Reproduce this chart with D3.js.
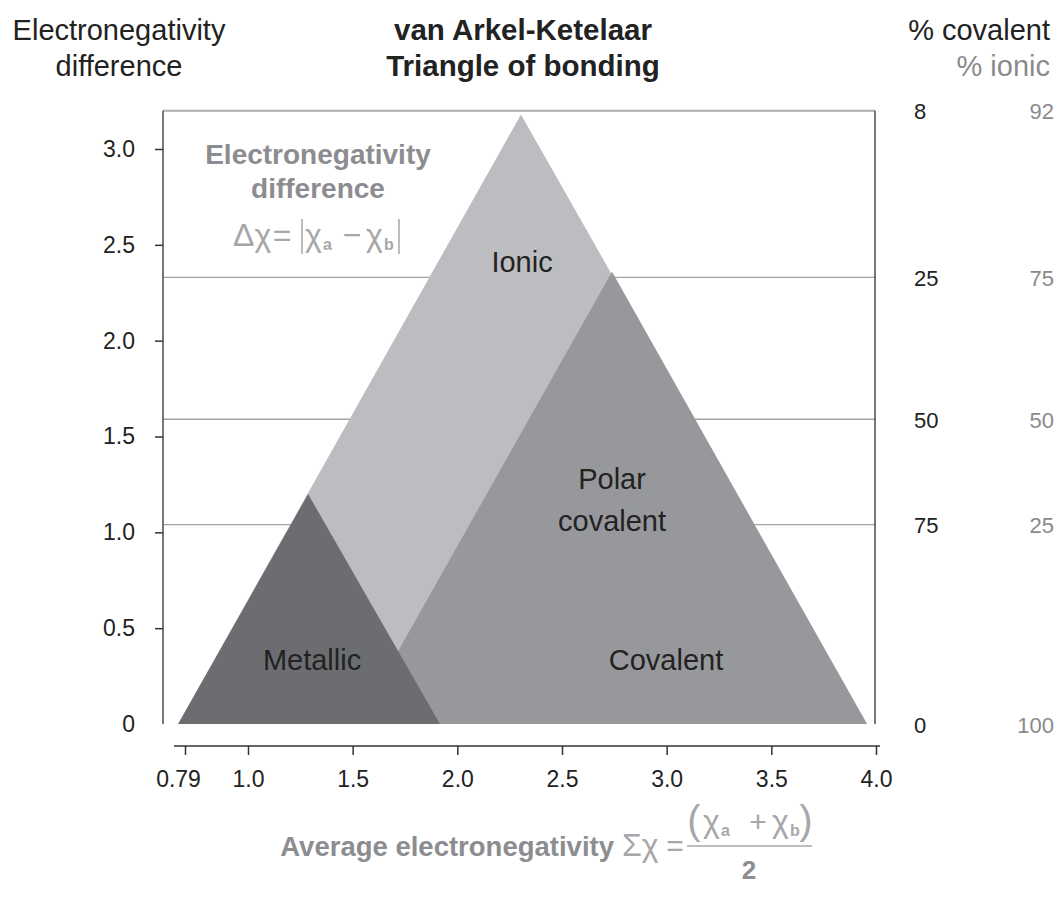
<!DOCTYPE html>
<html>
<head>
<meta charset="utf-8">
<script src="https://cdn.jsdelivr.net/npm/d3@7"></script>
<style>
  body { margin: 0; background: #fff; }
  text { font-family: "Liberation Sans", Arial, sans-serif; }
</style>
</head>
<body>
<div id="chart"></div>
<script>

// corners of the three regions, [average EN, EN difference]
var bigTriangle = [[0.767, 0], [2.304, 3.18], [3.957, 0]]
var covalentTriangle = [[1.521, 0], [2.739, 2.36], [3.957, 0]]
var metallicTriangle = [[0.767, 0], [1.287, 1.20], [1.917, 0]]

var xTicks = [0.79, 1.0, 1.5, 2.0, 2.5, 3.0, 3.5, 4.0]
var yTicks = [0, 0.5, 1.0, 1.5, 2.0, 2.5, 3.0]

// right hand scale: EN difference -> % covalent / % ionic
var levels = [3.2, 2.33, 1.59, 1.04, 0]
var pctCovalent = ["8", "25", "50", "75", "0"]
var pctIonic = ["92", "75", "50", "25", "100"]

var regionNames = [["Ionic"], ["Polar", "covalent"], ["Metallic"], ["Covalent"]]
var regionAt = [[2.309, 2.41], [2.739, 1.17], [1.306, 0.334], [2.997, 0.334]]

var width = 1059,
    height = 897

var svg = d3.select("#chart")
  .append("svg")
    .attr("width", width)
    .attr("height", height)

// the axis is stretched between 0.79 and 1.0 in the original
var x = d3.scaleLinear()
  .domain([0.79, 1, 4])
  .range([185, 248, 876])

var y = d3.scaleLinear()
  .domain([0, 3])
  .range([724, 149])

var left = 163, right = 875
var sans = "Liberation Sans, Arial, sans-serif"
var serif = "Liberation Serif, Times New Roman, serif"
var fGrey = "#a6a7aa"
var bGrey = "#8c8d90"

// level lines (behind the triangles)
svg.selectAll("line.level")
  .data(levels.slice(1, 4)).enter()
  .append("line")
    .attr("x1", left).attr("x2", right)
    .attr("y1", function(d) { return y(d) }).attr("y2", function(d) { return y(d) })
    .attr("stroke", "#a3a3a6")
    .attr("stroke-width", 1.3)

// top frame line
svg.append("line")
  .attr("x1", left).attr("x2", right)
  .attr("y1", y(levels[0])).attr("y2", y(levels[0]))
  .attr("stroke", "#adadb0")
  .attr("stroke-width", 2)

// frame sides
svg.selectAll("line.side")
  .data([left, right]).enter()
  .append("line")
    .attr("x1", function(d) { return d }).attr("x2", function(d) { return d })
    .attr("y1", y(levels[0])).attr("y2", y(0))
    .attr("stroke", "#4a4a4d")
    .attr("stroke-width", 1.5)

var line = d3.line()
  .x(function(d) { return x(d[0]) })
  .y(function(d) { return y(d[1]) })

var shapes = [
  { pts: bigTriangle, fill: "#bcbdc1" },
  { pts: covalentTriangle, fill: "#97989c" },
  { pts: metallicTriangle, fill: "#6c6d71" }
]

svg.selectAll("path.region")
  .data(shapes).enter()
  .append("path")
    .attr("d", function(d) { return line(d.pts) + "Z" })
    .attr("fill", function(d) { return d.fill })

// region names
regionNames.forEach(function(lines, i) {
  var t = svg.append("text")
    .attr("x", x(regionAt[i][0]))
    .attr("y", y(regionAt[i][1]))
    .attr("text-anchor", "middle")
    .attr("font-size", 29)
    .attr("fill", "#222")
  lines.forEach(function(s, j) {
    t.append("tspan")
      .attr("x", x(regionAt[i][0]))
      .attr("dy", j == 0 ? (0.35 - (lines.length - 1) * 0.72) + "em" : "1.44em")
      .text(s)
  })
})

// y axis
var yAxis = svg.append("g")
  .attr("transform", "translate(" + left + ",0)")
  .call(d3.axisLeft(y)
    .tickValues(yTicks)
    .tickSize(8)
    .tickPadding(20)
    .tickFormat(function(d) { return d == 0 ? "0" : d3.format(".1f")(d) }))
yAxis.select(".domain").remove()
yAxis.selectAll(".tick line").attr("stroke", "#333").attr("stroke-width", 1.5)
yAxis.selectAll(".tick").filter(function(d) { return d == 0 }).select("line").remove()
yAxis.selectAll(".tick text")
  .attr("font-size", 23)
  .attr("font-family", sans)
  .attr("fill", "#222")

// x axis
var xAxisY = 746
svg.append("line")
  .attr("x1", x(0.79) - 11).attr("x2", x(4.0) + 4)
  .attr("y1", xAxisY).attr("y2", xAxisY)
  .attr("stroke", "#333").attr("stroke-width", 1.5)

var xAxis = svg.append("g")
  .attr("transform", "translate(0," + xAxisY + ")")
  .call(d3.axisBottom(x)
    .tickValues(xTicks)
    .tickSize(9)
    .tickPadding(16)
    .tickFormat(function(d) { return d == 0.79 ? "0.79" : d3.format(".1f")(d) }))
xAxis.select(".domain").remove()
xAxis.selectAll(".tick line").attr("stroke", "#333").attr("stroke-width", 1.5)
xAxis.selectAll(".tick text")
  .attr("font-size", 23)
  .attr("font-family", sans)
  .attr("fill", "#222")
xAxis.selectAll(".tick").filter(function(d) { return d == 0.79 }).select("text").attr("dx", -7)

// right hand percentages
svg.selectAll("text.cov")
  .data(levels).enter()
  .append("text")
    .attr("x", 914)
    .attr("y", function(d) { return y(d) })
    .attr("dy", "0.4em")
    .attr("font-size", 22)
    .attr("fill", "#222")
    .text(function(d, i) { return pctCovalent[i] })

svg.selectAll("text.ion")
  .data(levels).enter()
  .append("text")
    .attr("x", 1054)
    .attr("y", function(d) { return y(d) })
    .attr("dy", "0.4em")
    .attr("text-anchor", "end")
    .attr("font-size", 22)
    .attr("fill", "#8a8a8d")
    .text(function(d, i) { return pctIonic[i] })

// headers
function twoLines(cx, cy, a, b, anchor, opts) {
  var t = svg.append("text")
    .attr("text-anchor", anchor)
    .attr("font-size", opts.size)
    .attr("font-weight", opts.weight || "normal")
  t.append("tspan").attr("x", cx).attr("y", cy).attr("fill", opts.c1).text(a)
  t.append("tspan").attr("x", cx).attr("y", cy + opts.gap).attr("fill", opts.c2).text(b)
}

twoLines(119, 40, "Electronegativity", "difference", "middle",
  { size: 29, c1: "#222", c2: "#222", gap: 36 })
twoLines(523, 40, "van Arkel-Ketelaar", "Triangle of bonding", "middle",
  { size: 29.5, weight: "bold", c1: "#222", c2: "#222", gap: 36 })
twoLines(1050, 40, "% covalent", "% ionic", "end",
  { size: 29, c1: "#222", c2: "#8a8a8d", gap: 36 })

// inner annotation
twoLines(318, 164, "Electronegativity", "difference", "middle",
  { size: 28, weight: "bold", c1: bGrey, c2: bGrey, gap: 34 })

function mathPiece(px, py, s, size, anchor) {
  return svg.append("text")
    .attr("x", px).attr("y", py)
    .attr("text-anchor", anchor || "middle")
    .attr("font-family", serif)
    .attr("font-size", size)
    .attr("fill", fGrey)
    .text(s)
}
function sub(px, py, s) {
  return svg.append("text")
    .attr("x", px).attr("y", py)
    .attr("font-family", sans)
    .attr("font-weight", "bold")
    .attr("font-size", 16)
    .attr("fill", fGrey)
    .text(s)
}
function bar(px, y1, y2) {
  svg.append("line").attr("x1", px).attr("x2", px).attr("y1", y1).attr("y2", y2)
    .attr("stroke", fGrey).attr("stroke-width", 1.5)
}

// delta chi formula
mathPiece(233, 246, "\u0394\u03c7", 32, "start")
mathPiece(282, 246, "=", 32)
bar(302, 219, 254)
mathPiece(305, 246, "\u03c7", 32, "start")
sub(323, 250, "a")
mathPiece(352, 246, "\u2212", 32)
mathPiece(366, 246, "\u03c7", 32, "start")
sub(384, 250, "b")
bar(399, 219, 254)

// bottom axis title
var rowY = 856
svg.append("text")
  .attr("x", 614).attr("y", rowY)
  .attr("text-anchor", "end")
  .attr("font-size", 27.5)
  .attr("font-weight", "bold")
  .attr("fill", bGrey)
  .text("Average electronegativity")

mathPiece(622, rowY, "\u03a3\u03c7", 32, "start")
mathPiece(675, rowY, "=", 30)

// numerator
var numY = rowY - 24
mathPiece(694, numY + 2, "(", 40)
mathPiece(703, numY, "\u03c7", 32, "start")
sub(721, numY + 4, "a")
mathPiece(758, numY, "+", 30)
mathPiece(772, numY, "\u03c7", 32, "start")
sub(790, numY + 4, "b")
mathPiece(806, numY + 2, ")", 40)

svg.append("line")
  .attr("x1", 687).attr("x2", 812)
  .attr("y1", rowY - 10).attr("y2", rowY - 10)
  .attr("stroke", fGrey).attr("stroke-width", 1.5)

svg.append("text")
  .attr("x", 749).attr("y", rowY + 23)
  .attr("text-anchor", "middle")
  .attr("font-size", 26)
  .attr("font-weight", "bold")
  .attr("fill", bGrey)
  .text("2")

</script>
</body>
</html>
